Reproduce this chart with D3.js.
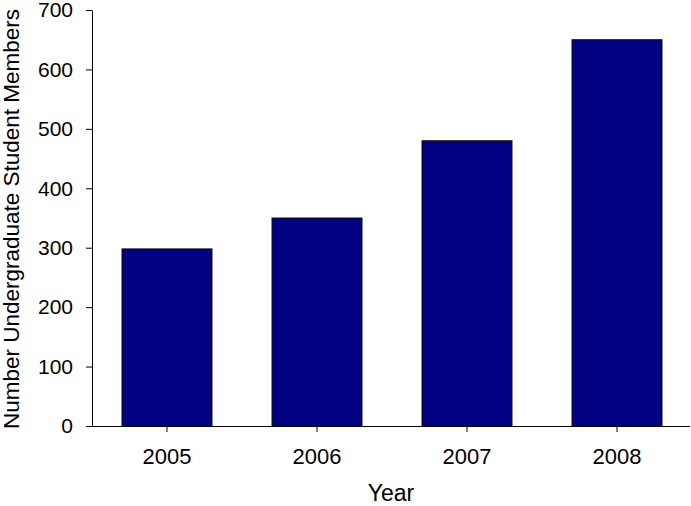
<!DOCTYPE html>
<html>
<head>
<meta charset="utf-8">
<script src="https://cdn.jsdelivr.net/npm/d3@7"></script>
<style>
  body { margin: 0; background: #fff; }
  text { font-family: "Liberation Sans", Arial, sans-serif; fill: #000; }
</style>
</head>
<body>
<div id="chart"></div>
<script>
// undergraduate student members per year
var years = ["2005", "2006", "2007", "2008"];
var members = [298, 350, 480, 650];
var yTicks = [0, 100, 200, 300, 400, 500, 600, 700];

var svgWidth = 691, svgHeight = 506;
var margin = {top: 10, right: 0, bottom: 80, left: 92};
var height = 426 - margin.top;

var svg = d3.select("#chart").append("svg")
    .attr("width", svgWidth)
    .attr("height", svgHeight)
  .append("g")
    .attr("transform", "translate(" + margin.left + "," + margin.top + ")");

var x = d3.scaleBand().domain(years).range([0, 600]).paddingInner(0.4).paddingOuter(0.2);
var y = d3.scaleLinear().domain([0, 700]).range([height, 0]);

// bars
svg.selectAll(".bar")
    .data(years)
  .enter().append("rect")
    .attr("class", "bar")
    .attr("x", function(d) { return x(d); })
    .attr("width", x.bandwidth())
    .attr("y", function(d, i) { return y(members[i]); })
    .attr("height", function(d, i) { return height - y(members[i]); })
    .style("fill", "#000080")
    .style("stroke", "#111")
    .style("stroke-width", 1);

// x axis
var xAxis = svg.append("g")
    .attr("transform", "translate(0," + height + ")")
    .call(d3.axisBottom(x).tickSize(6).tickSizeOuter(0).tickPadding(16));
xAxis.select(".domain").attr("d", "M-6,0.5H598");
xAxis.selectAll("text").style("font-size", "22px");

// y axis
var yAxis = svg.append("g")
    .call(d3.axisLeft(y).tickValues(yTicks).tickSize(6).tickSizeOuter(0).tickPadding(13));
yAxis.selectAll("text").style("font-size", "21px");

// axis titles
svg.append("text")
    .attr("x", 299)
    .attr("y", 491)
    .style("text-anchor", "middle")
    .style("font-size", "23px")
    .text("Year");

svg.append("text")
    .attr("transform", "rotate(-90)")
    .attr("x", -209)
    .attr("y", -73)
    .style("text-anchor", "middle")
    .style("font-size", "22.5px")
    .text("Number Undergraduate Student Members");
</script>
</body>
</html>
